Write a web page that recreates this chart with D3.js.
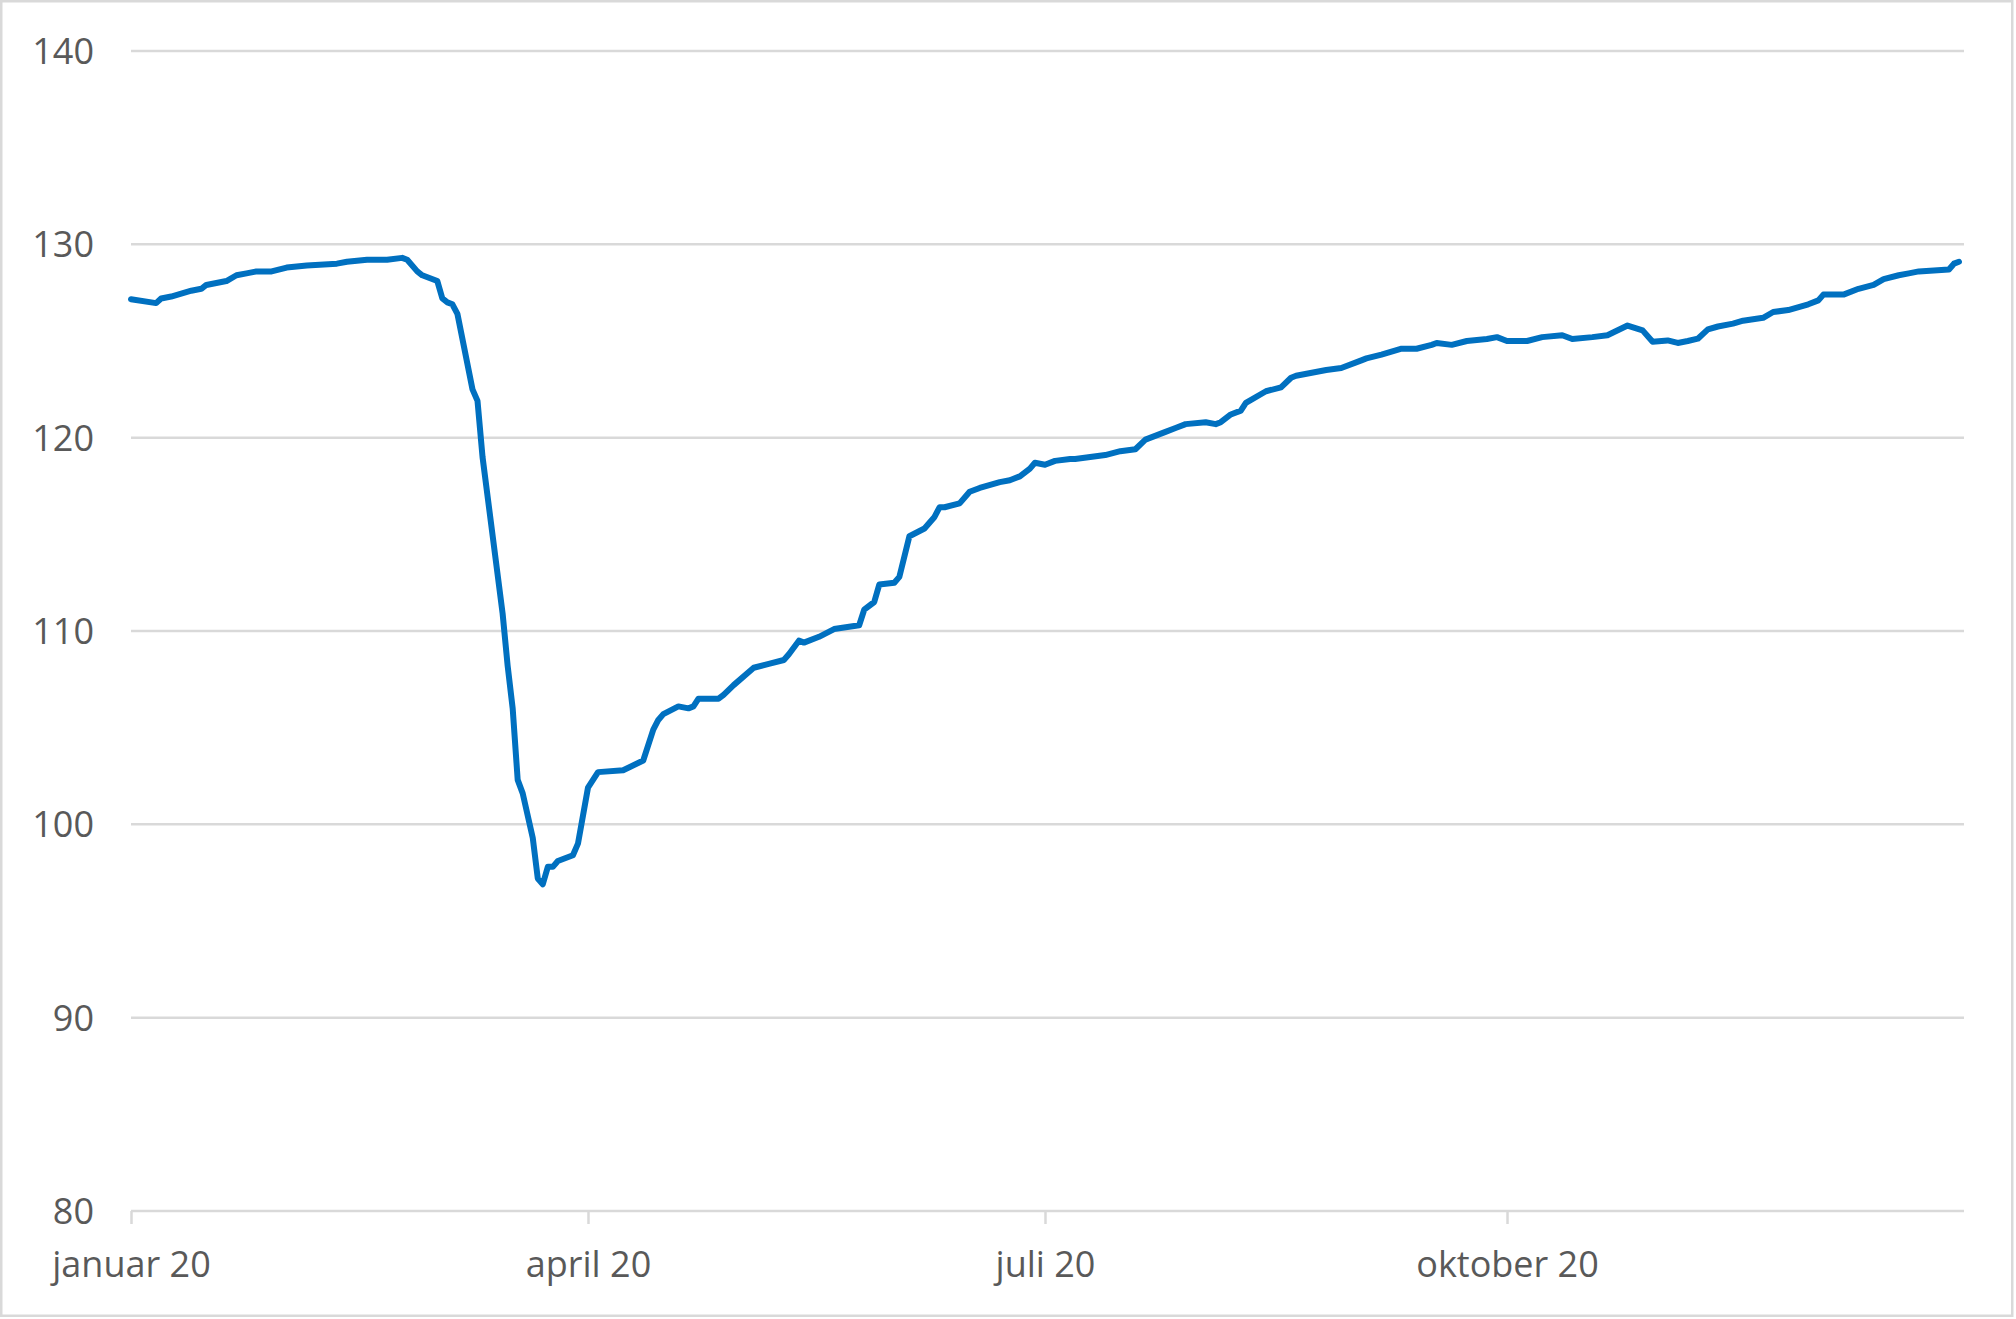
<!DOCTYPE html>
<html>
<head>
<meta charset="utf-8">
<script src="https://cdn.jsdelivr.net/npm/d3@7"></script>
<style>
  html, body { margin: 0; padding: 0; background: #fff; }
  svg { display: block; }
</style>
</head>
<body>
<svg id="chart" width="2016" height="1319"></svg>
<script>
// Day of year 2020 (0 = 1 Jan)
const dayIndex = [0,5,6,8,12,14,15,19,21,23,25,28,31,35,41,43,47,51,54,55,57,58,61,62,63,64,65,68,69,70,74,75,76,77,78,80,81,82,83,84,85,88,89,91,93,98,102,104,105,106,109,111,112,113,117,118,120,124,127,130,131,133,134,137,140,145,146,148,149,152,153,155,158,160,161,162,165,167,169,173,175,177,179,180,182,184,187,188,191,194,197,200,202,206,208,210,214,216,217,219,221,222,226,229,231,232,238,241,245,246,249,253,256,259,260,263,266,270,272,274,278,281,285,287,291,294,298,301,303,306,308,310,312,314,316,319,321,325,327,330,334,336,337,341,344,347,349,352,354,356,362,363,364];
const values = [127.16,126.96,127.2,127.3,127.6,127.7,127.9,128.1,128.4,128.5,128.6,128.6,128.8,128.9,129.0,129.1,129.2,129.2,129.3,129.2,128.6,128.4,128.1,127.2,127.0,126.9,126.4,122.5,121.9,119.0,110.9,108.2,106.0,102.3,101.6,99.3,97.2,96.9,97.8,97.8,98.1,98.4,99.0,101.9,102.7,102.8,103.3,104.9,105.4,105.7,106.1,106.0,106.1,106.5,106.5,106.7,107.2,108.1,108.3,108.5,108.8,109.5,109.4,109.7,110.1,110.3,111.1,111.5,112.4,112.5,112.8,114.9,115.3,115.9,116.4,116.4,116.6,117.2,117.4,117.7,117.8,118.0,118.4,118.7,118.6,118.8,118.9,118.9,119.0,119.1,119.3,119.4,119.9,120.3,120.5,120.7,120.8,120.7,120.8,121.2,121.4,121.8,122.4,122.6,123.1,123.2,123.5,123.6,124.0,124.1,124.3,124.6,124.6,124.8,124.9,124.8,125.0,125.1,125.2,125.0,125.0,125.2,125.3,125.1,125.2,125.3,125.8,125.55,124.96,125.03,124.9,125.0,125.12,125.6,125.75,125.9,126.05,126.2,126.5,126.6,126.9,127.1,127.4,127.4,127.7,127.9,128.2,128.4,128.5,128.6,128.7,129.0,129.1];
const yTicks = [80,90,100,110,120,130,140];
const xTickDates = ["2020-01-01","2020-04-01","2020-07-01","2020-10-01"];
const xTickLabels = ["januar 20","april 20","juli 20","oktober 20"];

const svg = d3.select("#chart");
const W = 2016, H = 1319;
const mLeft = 131, mRight = 1964, mTop = 51, mBottom = 1211;

svg.append("rect").attr("x",1.25).attr("y",1.25).attr("width",W-5).attr("height",H-4.5)
  .attr("fill","#fff").attr("stroke","#d9d9d9").attr("stroke-width",2.5);

const start = new Date(2020,0,1);
const x = d3.scaleTime().domain([start, new Date(2020,11,31)]).range([mLeft, mRight]);
const y = d3.scaleLinear().domain([80,140]).range([mBottom, mTop]);

const dates = dayIndex.map(d => d3.timeDay.offset(start, d));

// gridlines
svg.append("g").selectAll("line").data(yTicks.filter(v => v !== 80)).join("line")
  .attr("x1", mLeft).attr("x2", mRight)
  .attr("y1", d => y(d)).attr("y2", d => y(d))
  .attr("stroke","#d9d9d9").attr("stroke-width",2.5);

// y labels
svg.append("g").selectAll("text").data(yTicks).join("text")
  .attr("x", 94).attr("y", d => y(d)).attr("dy","0.36em")
  .attr("text-anchor","end")
  .attr("font-family","'Open Sans', sans-serif").attr("font-size",36)
  .attr("fill","#595959")
  .text(d => d);

// x axis
const parse = d3.timeParse("%Y-%m-%d");
const xAxis = d3.axisBottom(x)
  .tickValues(xTickDates.map(parse))
  .tickSize(13)
  .tickFormat((d,i) => xTickLabels[i]);
const gx = svg.append("g").attr("transform",`translate(0,${mBottom})`).call(xAxis);
gx.select(".domain").attr("stroke","#d9d9d9").attr("stroke-width",2.5)
  .attr("d", `M${mLeft},0H${mRight}`);
gx.selectAll(".tick line").attr("stroke","#d9d9d9").attr("stroke-width",2.5);
gx.selectAll(".tick text")
  .attr("font-family","'Open Sans', sans-serif").attr("font-size",36)
  .attr("fill","#595959").attr("y",40).attr("dy","0.71em");

// line
const line = d3.line().x((d,i) => x(dates[i])).y(d => y(d)).curve(d3.curveLinear);
svg.append("path").datum(values)
  .attr("d", line)
  .attr("fill","none").attr("stroke","#0070c0").attr("stroke-width",6)
  .attr("stroke-linejoin","round").attr("stroke-linecap","round");
</script>
</body>
</html>
